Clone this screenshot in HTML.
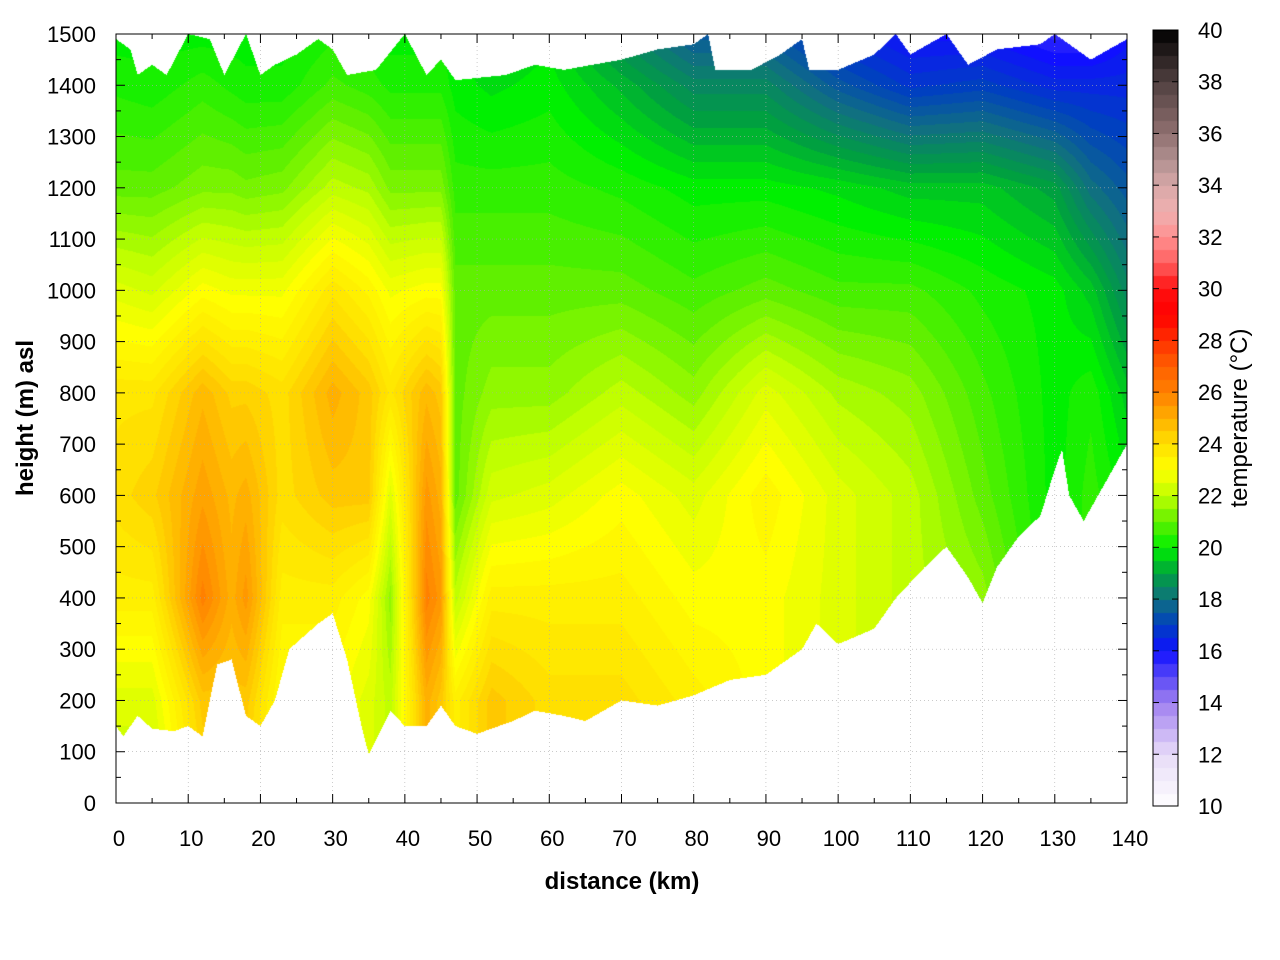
<!DOCTYPE html>
<html><head><meta charset="utf-8"><style>
body{margin:0;background:#fff;font-family:"Liberation Sans",sans-serif;}
#wrap{position:relative;width:1280px;height:960px;}
canvas{position:absolute;left:0;top:0;}
</style></head><body>
<div id="wrap">
<canvas id="cv" width="1280" height="960"></canvas>
<svg id="sv" width="1280" height="960" style="position:absolute;left:0;top:0"></svg>
</div>
<script>
// ---- data ----
const distances=[0,5,12,16,18,23,30,35,38,43,45,47,52,60,70,80,90,100,110,120,130,135,140];
const levels=[0,200,400,600,800,1000,1200,1400,1500];
const temps=[
[22,22.5,23.5,24,23.8,22.5,21,20.3,20],
[22,22.5,23.5,24.3,23.8,22.3,21,20.2,20],
[24,24.5,26,25.3,24.8,23,21.3,20.5,20],
[24,24.5,25,24.8,24.3,22.8,21.3,20.3,20],
[24,24.5,25.5,25,24.3,22.8,21.2,20.2,20],
[23,23,23.5,24,24,22.8,21.3,20.2,20],
[23,23,23.5,24.5,25,23.8,22,20.7,20.3],
[22.5,22.5,23,24.5,24.5,23.3,21.8,20.5,20.2],
[22,22,21.5,22.5,23.8,22.8,21.3,20.3,20],
[25,25,26,25.5,24.8,23,21.3,20.3,20],
[24.5,24.5,25.5,25,24.5,23,21.3,20.3,20],
[23.5,23.5,22,21,21,21,20.5,20,20],
[24.5,24.5,23.5,22.3,21.5,21,20.5,19.8,19.5],
[24,24,23.5,22.5,21.5,21,20.5,20,19.8],
[24,24,23.5,23,22,21,20.3,19.3,18.5],
[23.5,23.5,23,22.5,21.5,20.7,20,18.5,17.5],
[23,23,23,23.3,22.5,21,20,18.5,17.5],
[22.5,22.5,22.5,22.5,21.8,20.7,19.8,17.5,16.5],
[22,22,22,22,21.5,20.7,19.5,16.8,16],
[21.5,21.5,21.5,21,20.7,20.3,19.5,17,16],
[20,20,20,20,20,20,19,16.5,15.5],
[20.5,20.5,20.5,20.5,20.3,19.5,18,16.5,15.5],
[20,20,20,20,19.5,18.5,17.5,16.5,16]];
const groundKm=[0,1,3,5,8,10,12,14,16,18,20,22,24,28,30,32,34,35,37,38,40,43,45,47,50,55,58,62,65,70,75,80,85,90,95,97,100,105,108,112,115,118,120,122,125,128,130,131,132,134,136,140];
const groundM=[150,130,170,145,140,150,130,270,280,170,150,200,300,350,370,280,150,95,150,180,150,150,190,150,135,160,180,170,160,200,190,210,240,250,300,350,310,340,400,460,500,440,390,460,520,560,650,690,600,550,600,700];
const topKm=[0,2,3,5,7,10,13,15,18,20,22,25,28,30,32,36,40,43,45,47,54,58,62,70,75,80,82,83,88,92,95,96,100,105,108,110,115,118,122,128,130,135,140];
const topM=[1490,1470,1420,1440,1420,1500,1490,1420,1500,1420,1440,1460,1490,1470,1420,1430,1500,1420,1450,1410,1420,1440,1430,1450,1470,1480,1500,1430,1430,1460,1490,1430,1430,1460,1500,1460,1500,1440,1470,1480,1500,1450,1490];
const xTicks=[0,10,20,30,40,50,60,70,80,90,100,110,120,130,140];
const yTicks=[0,100,200,300,400,500,600,700,800,900,1000,1100,1200,1300,1400,1500];
const cbTicks=[10,12,14,16,18,20,22,24,26,28,30,32,34,36,38,40];
const cmapT=[10,12,14,16,17,18,19,20,21,22,23,24,25,26,27,28,29,30,31,32,33,34,35,36,38,40];
const cmapC=['#ffffff','#e8dcf8','#a080f0','#1010ff','#0040c0','#107080','#00a040','#00f000','#60f000','#c0ff00','#ffff00','#ffe000','#ffb000','#ff8000','#ff6000','#ff3000','#ff0000','#ff1010','#ff6060','#ff9090','#f0b0b0','#d8a8a8','#b09090','#907070','#504040','#000000'];
// ---- scales ----
const X0=116,X1=1127,Y0=803,Y1=34;
const xs=d=>X0+(X1-X0)*d/140, ys=h=>Y0-(Y0-Y1)*h/1500;
const CB0=806,CB1=30; const cbs=t=>CB0-(CB0-CB1)*(t-10)/30;
function interp(xa,ya,x){if(x<=xa[0])return ya[0];for(let i=1;i<xa.length;i++)if(x<=xa[i]){const f=(x-xa[i-1])/(xa[i]-xa[i-1]);return ya[i-1]+f*(ya[i]-ya[i-1]);}return ya[ya.length-1];}
function hex(c){return [parseInt(c.slice(1,3),16),parseInt(c.slice(3,5),16),parseInt(c.slice(5,7),16)];}
const cmapRGB=cmapC.map(hex);
function color(t){t=Math.max(10,Math.min(40,t));for(let i=1;i<cmapT.length;i++)if(t<=cmapT[i]){const f=(t-cmapT[i-1])/(cmapT[i]-cmapT[i-1]);const a=cmapRGB[i-1],b=cmapRGB[i];return [a[0]+f*(b[0]-a[0]),a[1]+f*(b[1]-a[1]),a[2]+f*(b[2]-a[2])];}return cmapRGB[cmapRGB.length-1];}
function tempAt(d,h){let i=0;while(i<distances.length-2&&d>distances[i+1])i++;const f=Math.max(0,Math.min(1,(d-distances[i])/(distances[i+1]-distances[i])));
const a=interp(levels,temps[i],h),b=interp(levels,temps[i+1],h);return a+f*(b-a);}
// ---- draw heatmap ----
const cv=document.getElementById('cv'),ctx=cv.getContext('2d');
const W=X1-X0,H=Y0-Y1;const img=ctx.createImageData(W,H);
for(let px=0;px<W;px++){const d=(px+0.5)/W*140;const g=interp(groundKm,groundM,d),tp=interp(topKm,topM,d);
for(let py=0;py<H;py++){const h=(H-py-0.5)/H*1500;const k=(py*W+px)*4;
if(h<g||h>tp){img.data[k]=255;img.data[k+1]=255;img.data[k+2]=255;img.data[k+3]=255;continue;}
let t=Math.round(tempAt(d,h)*4)/4;const c=color(t);img.data[k]=c[0];img.data[k+1]=c[1];img.data[k+2]=c[2];img.data[k+3]=255;}}
ctx.putImageData(img,X0,Y1);
// colorbar
for(let y=CB1;y<CB0;y++){const t=10+(CB0-y)/(CB0-CB1)*30;const c=color(Math.floor(t*2)/2+0.25);ctx.fillStyle=`rgb(${c[0]|0},${c[1]|0},${c[2]|0})`;ctx.fillRect(1153,y,25,1);}
// ---- axes svg ----
const sv=document.getElementById('sv');const NS='http://www.w3.org/2000/svg';
function el(tag,attrs,txt){const e=document.createElementNS(NS,tag);for(const k in attrs)e.setAttribute(k,attrs[k]);if(txt!==undefined)e.textContent=txt;sv.appendChild(e);return e;}
xTicks.forEach(v=>{const x=xs(v);
const gl=el('line',{x1:x,y1:Y1,x2:x,y2:Y0,stroke:'#aaa','stroke-width':0.6,'stroke-dasharray':'1,3'});
el('line',{x1:x,y1:Y0,x2:x,y2:Y0-9,stroke:'#000'});el('line',{x1:x,y1:Y1,x2:x,y2:Y1+9,stroke:'#000'});
const t=el('text',{x:x+3,y:846,'font-size':22,'text-anchor':'middle'},v);});
for(let v=5;v<140;v+=10){const x=xs(v);el('line',{x1:x,y1:Y0,x2:x,y2:Y0-5,stroke:'#000'});el('line',{x1:x,y1:Y1,x2:x,y2:Y1+5,stroke:'#000'});}
yTicks.forEach(v=>{const y=ys(v);
const gl=el('line',{x1:X0,y1:y,x2:X1,y2:y,stroke:'#aaa','stroke-width':0.6,'stroke-dasharray':'1,3'});
el('line',{x1:X0,y1:y,x2:X0+9,y2:y,stroke:'#000'});el('line',{x1:X1,y1:y,x2:X1-9,y2:y,stroke:'#000'});
const t=el('text',{x:96,y:y+8,'font-size':22,'text-anchor':'end'},v);});
for(let v=50;v<1500;v+=100){const y=ys(v);el('line',{x1:X0,y1:y,x2:X0+5,y2:y,stroke:'#000'});el('line',{x1:X1,y1:y,x2:X1-5,y2:y,stroke:'#000'});}
const fr=el('rect',{x:X0,y:Y1,width:X1-X0,height:Y0-Y1,fill:'none',stroke:'#000'});
const xt=el('text',{x:622,y:889,'font-size':24,'font-weight':'bold','text-anchor':'middle'},'distance (km)');
const yt=el('text',{x:0,y:0,'font-size':24,'font-weight':'bold','text-anchor':'middle',transform:'translate(33,418) rotate(-90)'},'height (m) asl');
const cb=el('rect',{x:1153,y:CB1,width:25,height:CB0-CB1,fill:'none',stroke:'#000'});
cbTicks.forEach(v=>{const y=cbs(v);el('line',{x1:1153,y1:y,x2:1159,y2:y,stroke:'#000'});el('line',{x1:1178,y1:y,x2:1172,y2:y,stroke:'#000'});
const t=el('text',{x:1198,y:y+8,'font-size':22},v);});
const ct=el('text',{x:0,y:0,'font-size':24,'text-anchor':'middle',transform:'translate(1247,418) rotate(-90)'},'temperature (°C)');
</script>
</body></html>
